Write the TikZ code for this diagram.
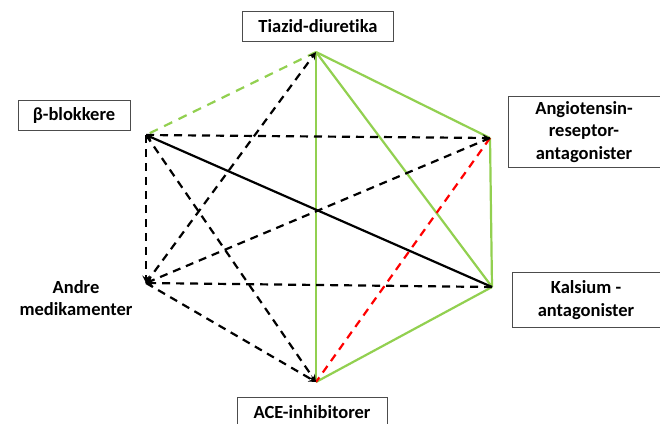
\documentclass[tikz,border=0pt]{standalone}
\usepackage{fontspec}
\setmainfont{Carlito}[Ligatures=NoCommon]
\usepackage{tikz}
\definecolor{lgreen}{RGB}{146,208,80}

\begin{document}
\begin{tikzpicture}[x=1pt,y=-1pt,
  lbl/.style={font=\bfseries\fontsize{18.5}{22.5}\selectfont, align=center},
  box/.style={lbl, draw=black!70, line width=0.9pt, inner sep=0pt},
  gline/.style={lgreen, line width=2.2pt},
  bline/.style={black, line width=2.2pt, dash pattern=on 8pt off 6pt}]

%% Frame with the same margins
\useasboundingbox (0,0) rectangle (660,423);

%% Corners of the hexagon
\coordinate (tiazid) at (316,52);
\coordinate (beta) at (146,135);
\coordinate (angio) at (490,138);
\coordinate (andre) at (146,283);
\coordinate (kalsium) at (492,287);
\coordinate (ace) at (316,382);

%% Labels
\node[box, minimum width=151, minimum height=30] (tiazidlbl) at (318,26) {Tiazid-diuretika};
\node[box, minimum width=112, minimum height=30] (betalbl) at (74,115) {β-blokkere};
\node[box, minimum width=152, minimum height=71] (angiolbl) at (584,132) {Angiotensin-\\reseptor-\\antagonister};
\node[lbl] (andrelbl) at (76,298) {Andre\\medikamenter};
\node[box, minimum width=148, minimum height=55] (kalsiumlbl) at (586,300) {Kalsium -\\antagonister};
\node[box, minimum width=150, minimum height=34, text depth=3pt] (acelbl) at (312,414) {ACE-inhibitorer};

%% Green connections
\draw[gline, dash pattern=on 9pt off 7pt] (tiazid)--(beta);
\draw[gline] (tiazid)--(angio);
\draw[gline] (tiazid)--(kalsium);
\draw[gline] (tiazid)--(ace);
\draw[gline] (angio)--(kalsium);
\draw[gline] (kalsium)--(ace);

%% Red connection
\draw[red, line width=2.2pt, dash pattern=on 8pt off 6pt] (angio)--(ace);

%% Black connections
\draw[black, line width=2.2pt, -stealth] (kalsium)--(beta);
\draw[bline, -stealth] (beta)--(angio);
\draw[bline, -stealth] (beta)--(andre);
\draw[bline, -stealth] (beta)--(ace);
\draw[bline, -stealth] (andre)--(tiazid);
\draw[bline, -stealth] (angio)--(andre);
\draw[bline, -stealth] (kalsium)--(andre);
\draw[bline, -stealth] (andre)--(ace);

\end{tikzpicture}
\end{document}
